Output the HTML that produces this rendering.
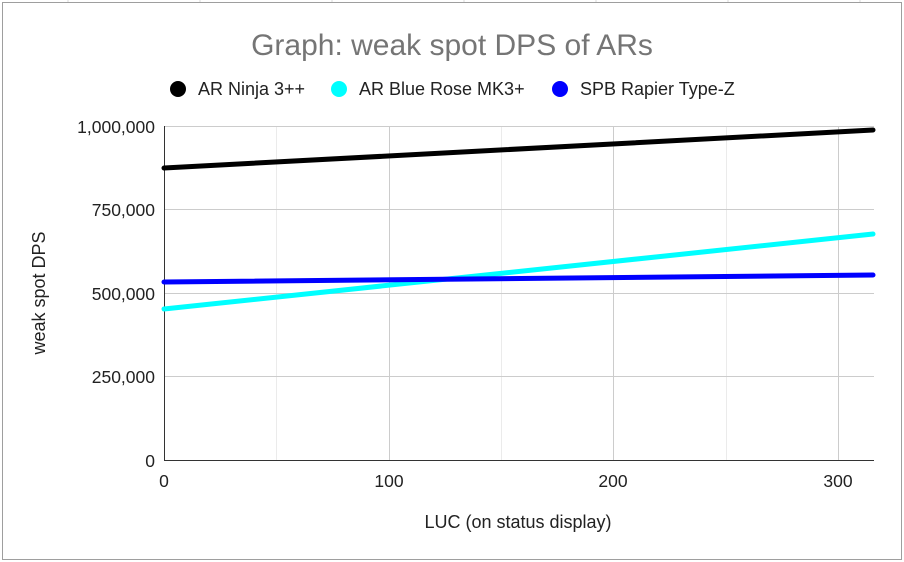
<!DOCTYPE html>
<html><head><style>body{margin:0;background:#fff}svg{display:block;font-family:"Liberation Sans",Arial,sans-serif}</style></head>
<body>
<svg width="904" height="562" xmlns="http://www.w3.org/2000/svg">
<rect width="904" height="562" fill="#fff"/>
<g stroke="#d9d9d9" stroke-width="1">
<line x1="68" y1="0" x2="68" y2="2"/><line x1="200" y1="0" x2="200" y2="2"/><line x1="332" y1="0" x2="332" y2="2"/><line x1="464" y1="0" x2="464" y2="2"/><line x1="596" y1="0" x2="596" y2="2"/><line x1="728" y1="0" x2="728" y2="2"/><line x1="860" y1="0" x2="860" y2="2"/>
</g>
<rect x="2.5" y="2.5" width="899" height="557" fill="#fff" stroke="#9e9e9e" stroke-width="1"/>
<text x="452" y="55" text-anchor="middle" font-size="30" fill="#757575">Graph: weak spot DPS of ARs</text>
<g font-size="18" fill="#222">
<circle cx="178" cy="89" r="8" fill="#000"/><text x="198" y="95">AR Ninja 3++</text>
<circle cx="339" cy="89" r="8" fill="#00ffff"/><text x="359" y="95">AR Blue Rose MK3+</text>
<circle cx="560" cy="89" r="8" fill="#0000ff"/><text x="580" y="95">SPB Rapier Type-Z</text>
</g>
<g stroke="#ebebeb" stroke-width="1">
<line x1="276.5" y1="126" x2="276.5" y2="460"/><line x1="501.5" y1="126" x2="501.5" y2="460"/><line x1="726.5" y1="126" x2="726.5" y2="460"/>
</g>
<g stroke="#ccc" stroke-width="1">
<line x1="164" y1="126.5" x2="874" y2="126.5"/><line x1="164" y1="209.5" x2="874" y2="209.5"/><line x1="164" y1="293.5" x2="874" y2="293.5"/><line x1="164" y1="376.5" x2="874" y2="376.5"/>
<line x1="389.5" y1="126" x2="389.5" y2="460"/><line x1="613.5" y1="126" x2="613.5" y2="460"/><line x1="838.5" y1="126" x2="838.5" y2="460"/>
</g>
<line x1="164.5" y1="126" x2="164.5" y2="460" stroke="#333" stroke-width="1"/>
<line x1="164" y1="460.5" x2="874" y2="460.5" stroke="#333" stroke-width="1"/>
<g font-size="17.5" fill="#222" text-anchor="end">
<text x="155" y="133">1,000,000</text><text x="155" y="216">750,000</text><text x="155" y="300">500,000</text><text x="155" y="383">250,000</text><text x="155" y="467">0</text>
</g>
<g font-size="17.5" fill="#222" text-anchor="middle">
<text x="164" y="487">0</text><text x="389" y="487">100</text><text x="613" y="487">200</text><text x="838" y="487">300</text>
</g>
<g font-size="18" fill="#222" text-anchor="middle">
<text x="518" y="528">LUC (on status display)</text>
<text transform="translate(45,293) rotate(-90)">weak spot DPS</text>
</g>
<g stroke-width="5" stroke-linecap="round">
<line x1="164" y1="168" x2="873" y2="130" stroke="#000"/>
<line x1="164" y1="309" x2="873" y2="234" stroke="#00ffff"/>
<line x1="164" y1="282" x2="873" y2="275" stroke="#0000ff"/>
</g>
</svg>
</body></html>
